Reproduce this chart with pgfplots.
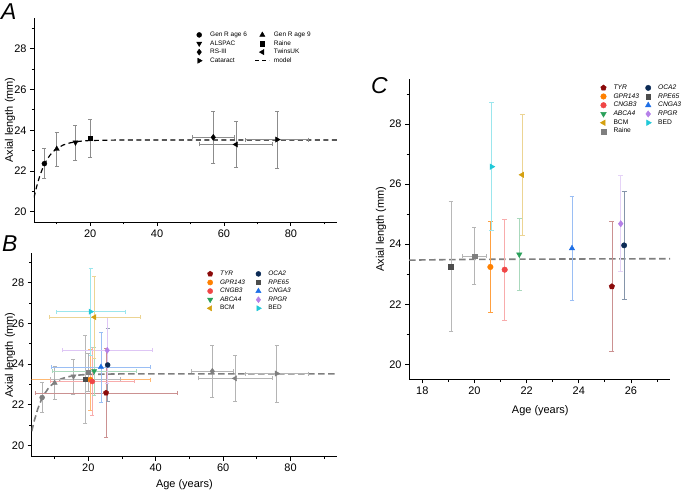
\documentclass[border=0pt]{standalone}
\usepackage{fontspec}
\setmainfont{Liberation Sans}
\usepackage{pgfplots}
\pgfplotsset{compat=1.18}
\usepackage{pgfplotstable}
\usetikzlibrary{plotmarks}

\definecolor{cTYR}{HTML}{8B0A0A}
\definecolor{cGPR}{HTML}{FF8000}
\definecolor{cCNGB}{HTML}{F04646}
\definecolor{cABCA}{HTML}{2AA05A}
\definecolor{cBCM}{HTML}{D4A010}
\definecolor{cOCA}{HTML}{0B2A55}
\definecolor{cRPE}{HTML}{4D4D4D}
\definecolor{cCNGA}{HTML}{1E6FE6}
\definecolor{cRPGR}{HTML}{B580E8}
\definecolor{cBED}{HTML}{20C8D8}
\definecolor{cGrey}{HTML}{7F7F7F}
\definecolor{cErrA}{HTML}{8C8C8C}
\definecolor{cErrG}{HTML}{B4B4B4}

% model curve
\pgfplotstableread{
x y
3.2 20.70
4 21.24
5 21.80
6 22.22
7 22.54
8 22.78
9 22.96
10 23.10
12 23.28
14 23.38
16 23.44
18 23.475
20 23.494
25 23.51
30 23.52
93.8 23.52
}\tModel

% population studies: x y ex ey
\pgfplotstableread{
x y ex ey
6.3 22.36 0 0.74
}\tGenRsix
\pgfplotstableread{
x y ex ey
10.0 23.08 0 0.83
}\tGenRnine
\pgfplotstableread{
x y ex ey
15.6 23.40 0 0.86
}\tALSPAC
\pgfplotstableread{
x y ex ey
20.0 23.60 0.46 0.95
}\tRaine
\pgfplotstableread{
x y ex ey
56.8 23.65 6.3 1.26
}\tRSIII
\pgfplotstableread{
x y ex ey
63.6 23.30 11.0 1.13
}\tTwins
\pgfplotstableread{
x y ex ey
75.9 23.54 9.4 1.40
}\tCataract

% rare diseases: x y ex ey
\pgfplotstableread{
x y ex ey
25.27 22.59 21.1 2.17
}\tTYR
\pgfplotstableread{
x y ex ey
25.74 23.96 0 1.80
}\tOCA
\pgfplotstableread{
x y ex ey
20.61 23.24 17.7 1.51
}\tGPR
\pgfplotstableread{
x y ex ey
19.10 23.26 10.5 2.16
}\tRPE
\pgfplotstableread{
x y ex ey
21.16 23.15 12.4 1.68
}\tCNGB
\pgfplotstableread{
x y ex ey
23.74 23.86 14.6 1.72
}\tCNGA
\pgfplotstableread{
x y ex ey
21.72 23.66 12.4 1.19
}\tABCA
\pgfplotstableread{
x y ex ey
25.61 24.68 13.4 1.60
}\tRPGR
\pgfplotstableread{
x y ex ey
21.83 26.31 13.5 2.01
}\tBCM
\pgfplotstableread{
x y ex ey
20.66 26.58 10.3 2.13
}\tBED

\pgfplotsset{
  mk/.style={only marks,
    legend image code/.code={\path[draw=none,fill=none] (0bp,-2bp) rectangle (14bp,2bp);
      \draw[mark repeat=2,mark phase=2,##1] plot coordinates {(0bp,0bp)(7bp,0bp)(14bp,0bp)};}},
  modelleg/.style={legend image code/.code={\draw[##1] (0bp,0bp) -- (14bp,0bp);}},
  eb/.style={error bars/x dir=both, error bars/x explicit,
    error bars/y dir=both, error bars/y explicit,
    error bars/error bar style={line width=0.6bp, draw=#1, solid},
    error bars/error mark options={rotate=90, mark size=2bp, line width=0.6bp, draw=#1, solid}},
  ebY/.style={error bars/y dir=both, error bars/y explicit,
    error bars/error bar style={line width=0.6bp, draw=#1, solid},
    error bars/error mark options={rotate=90, mark size=2.4bp, line width=0.6bp, draw=#1, solid}},
  base/.style={scale only axis, anchor=south west,
    axis x line=bottom, axis y line=left,
    axis line style={-, line width=0.9bp},
    tick align=outside, major tick length=4bp, minor tick length=2.3bp,
    tick style={black, line width=0.8bp},
    ticklabel style={font=\fontsize{11}{13}\selectfont},
    /pgf/number format/assume math mode=true,
    label style={font=\fontsize{11}{13}\selectfont},
    ytick={20,22,...,28}, minor ytick={21,23,...,29},
    legend columns=2,
    legend style={draw=none, fill=none, inner sep=0pt, row sep=2.5bp,
      nodes={inner sep=0pt, text height=4.7bp, text depth=1.4bp},
      cells={anchor=west}}},
}

\begin{document}
\begin{tikzpicture}
\useasboundingbox (0,0) rectangle (681bp,491bp);

%%%%%%%%%%%%%%%% Panel A
\begin{axis}[base, at={(34bp,269bp)}, width=303bp, height=204bp,
  xmin=3.2, xmax=93.8, ymin=19.5, ymax=29.5,
  xtick={20,40,60,80}, minor xtick={10,30,50,70,90},
  ylabel={Axial length (mm)},
  ylabel style={at={(axis description cs:-0.079,0.5)}, anchor=center},
  legend style={at={(0.5215,0.933)}, anchor=north west,
    font=\fontsize{6.5}{7.5}\selectfont,
    /tikz/every odd column/.append style={column sep=4bp},
    /tikz/every even column/.append style={column sep=7.8bp}}]
\addplot[forget plot, black, line width=1.2bp, dash pattern=on 5bp off 3.5bp] table[x=x,y=y] {\tModel};
\addplot[mk, black, mark=*, mark size=2.5bp, eb=cErrA] table[x=x,y=y,x error=ex,y error=ey] {\tGenRsix};
\addlegendentry{Gen R age 6}
\addplot[mk, black, mark=triangle*, mark size=3bp, eb=cErrA] table[x=x,y=y,x error=ex,y error=ey] {\tGenRnine};
\addlegendentry{Gen R age 9}
\addplot[mk, black, mark=triangle*, mark options={rotate=180}, mark size=3bp, eb=cErrA] table[x=x,y=y,x error=ex,y error=ey] {\tALSPAC};
\addlegendentry{ALSPAC}
\addplot[mk, black, mark=square*, mark size=2.2bp, eb=cErrA] table[x=x,y=y,x error=ex,y error=ey] {\tRaine};
\addlegendentry{Raine}
\addplot[mk, black, mark=diamond*, mark size=3bp, eb=cErrA] table[x=x,y=y,x error=ex,y error=ey] {\tRSIII};
\addlegendentry{RS-III}
\addplot[mk, black, mark=triangle*, mark options={rotate=90}, mark size=3bp, eb=cErrA] table[x=x,y=y,x error=ex,y error=ey] {\tTwins};
\addlegendentry{TwinsUK}
\addplot[mk, black, mark=triangle*, mark options={rotate=-90}, mark size=3bp, eb=cErrA] table[x=x,y=y,x error=ex,y error=ey] {\tCataract};
\addlegendentry{Cataract}
\addlegendimage{modelleg, black, line width=1.2bp, dash pattern=on 4bp off 3bp}
\addlegendentry{model}
\end{axis}

%%%%%%%%%%%%%%%% Panel B
\begin{axis}[base, at={(31.7bp,34.3bp)}, width=305.3bp, height=203.4bp,
  xmin=3.2, xmax=93.8, ymin=19.45, ymax=29.45,
  xtick={20,40,60,80}, minor xtick={10,30,50,70,90},
  ylabel={Axial length (mm)}, xlabel={Age (years)},
  ylabel style={at={(axis description cs:-0.071,0.5)}, anchor=center},
  xlabel style={at={(axis description cs:0.5,-0.137)}, anchor=center},
  legend style={at={(0.561,0.9147)}, anchor=north west,
    font=\fontsize{6.5}{7.5}\selectfont,
    /tikz/every odd column/.append style={column sep=3bp},
    /tikz/every even column/.append style={column sep=6.4bp}}]
\addplot[forget plot, cGrey, line width=1.6bp, dash pattern=on 6.5bp off 3.5bp] table[x=x,y=y] {\tModel};
\addplot[forget plot, mk, cGrey, mark=*, mark size=2.5bp, eb=cErrG] table[x=x,y=y,x error=ex,y error=ey] {\tGenRsix};
\addplot[forget plot, mk, cGrey, mark=triangle*, mark size=3bp, eb=cErrG] table[x=x,y=y,x error=ex,y error=ey] {\tGenRnine};
\addplot[forget plot, mk, cGrey, mark=triangle*, mark options={rotate=180}, mark size=3bp, eb=cErrG] table[x=x,y=y,x error=ex,y error=ey] {\tALSPAC};
\addplot[forget plot, mk, cGrey, mark=square*, mark size=2.2bp, eb=cErrG] table[x=x,y=y,x error=ex,y error=ey] {\tRaine};
\addplot[forget plot, mk, cGrey, mark=diamond*, mark size=3bp, eb=cErrG] table[x=x,y=y,x error=ex,y error=ey] {\tRSIII};
\addplot[forget plot, mk, cGrey, mark=triangle*, mark options={rotate=90}, mark size=3bp, eb=cErrG] table[x=x,y=y,x error=ex,y error=ey] {\tTwins};
\addplot[forget plot, mk, cGrey, mark=triangle*, mark options={rotate=-90}, mark size=3bp, eb=cErrG] table[x=x,y=y,x error=ex,y error=ey] {\tCataract};
\addplot[mk, cTYR, mark=pentagon*, mark size=2.8bp, eb=cTYR!45!white] table[x=x,y=y,x error=ex,y error=ey] {\tTYR};
\addlegendentry{\itshape TYR}
\addplot[mk, cOCA, mark=*, mark size=2.5bp, eb=cOCA!45!white] table[x=x,y=y,x error=ex,y error=ey] {\tOCA};
\addlegendentry{\itshape OCA2}
\addplot[mk, cGPR, mark=*, mark size=2.6bp, eb=cGPR!55!white] table[x=x,y=y,x error=ex,y error=ey] {\tGPR};
\addlegendentry{\itshape GPR143}
\addplot[mk, cRPE, mark=square*, mark size=2.2bp, eb=cRPE!40!white] table[x=x,y=y,x error=ex,y error=ey] {\tRPE};
\addlegendentry{\itshape RPE65}
\addplot[mk, cCNGB, mark=*, mark size=2.6bp, eb=cCNGB!45!white] table[x=x,y=y,x error=ex,y error=ey] {\tCNGB};
\addlegendentry{\itshape CNGB3}
\addplot[mk, cCNGA, mark=triangle*, mark size=3bp, eb=cCNGA!45!white] table[x=x,y=y,x error=ex,y error=ey] {\tCNGA};
\addlegendentry{\itshape CNGA3}
\addplot[mk, cABCA, mark=triangle*, mark options={rotate=180}, mark size=3bp, eb=cABCA!40!white] table[x=x,y=y,x error=ex,y error=ey] {\tABCA};
\addlegendentry{\itshape ABCA4}
\addplot[mk, cRPGR, mark=diamond*, mark size=3bp, eb=cRPGR!45!white] table[x=x,y=y,x error=ex,y error=ey] {\tRPGR};
\addlegendentry{\itshape RPGR}
\addplot[mk, cBCM, mark=triangle*, mark options={rotate=90}, mark size=3bp, eb=cBCM!45!white] table[x=x,y=y,x error=ex,y error=ey] {\tBCM};
\addlegendentry{BCM}
\addplot[mk, cBED, mark=triangle*, mark options={rotate=-90}, mark size=3bp, eb=cBED!45!white] table[x=x,y=y,x error=ex,y error=ey] {\tBED};
\addlegendentry{BED}
\end{axis}

%%%%%%%%%%%%%%%% Panel C
\begin{axis}[base, at={(409bp,111.7bp)}, width=261bp, height=300.3bp,
  xmin=17.49, xmax=27.5, ymin=19.5, ymax=29.5,
  xtick={18,20,...,26}, minor xtick={19,21,...,27},
  ylabel={Axial length (mm)}, xlabel={Age (years)},
  ylabel style={at={(axis description cs:-0.107,0.5)}, anchor=center},
  xlabel style={at={(axis description cs:0.503,-0.104)}, anchor=center},
  legend style={at={(0.7176,0.9812)}, anchor=north west,
    font=\fontsize{6.7}{7.7}\selectfont,
    /tikz/every odd column/.append style={column sep=3bp},
    /tikz/every even column/.append style={column sep=2.1bp}}]
\addplot[forget plot, cGrey, line width=1.6bp, dash pattern=on 6.5bp off 3.5bp] table[x=x,y=y] {\tModel};
\addplot[mk, cTYR, mark=pentagon*, mark size=2.9bp, ebY=cTYR!45!white] table[x=x,y=y,y error=ey] {\tTYR};
\addlegendentry{\itshape TYR}
\addplot[mk, cOCA, mark=*, mark size=2.7bp, ebY=cOCA!50!white] table[x=x,y=y,y error=ey] {\tOCA};
\addlegendentry{\itshape OCA2}
\addplot[mk, cGPR, mark=*, mark size=2.8bp, ebY=cGPR!75!white] table[x=x,y=y,y error=ey] {\tGPR};
\addlegendentry{\itshape GPR143}
\addplot[mk, cRPE, mark=square*, mark size=2.4bp, ebY=cRPE!40!white] table[x=x,y=y,y error=ey] {\tRPE};
\addlegendentry{\itshape RPE65}
\addplot[mk, cCNGB, mark=*, mark size=2.8bp, ebY=cCNGB!45!white] table[x=x,y=y,y error=ey] {\tCNGB};
\addlegendentry{\itshape CNGB3}
\addplot[mk, cCNGA, mark=triangle*, mark size=3.2bp, ebY=cCNGA!45!white] table[x=x,y=y,y error=ey] {\tCNGA};
\addlegendentry{\itshape CNGA3}
\addplot[mk, cABCA, mark=triangle*, mark options={rotate=180}, mark size=3.2bp, ebY=cABCA!40!white] table[x=x,y=y,y error=ey] {\tABCA};
\addlegendentry{\itshape ABCA4}
\addplot[mk, cRPGR, mark=diamond*, mark size=3.2bp, ebY=cRPGR!35!white] table[x=x,y=y,y error=ey] {\tRPGR};
\addlegendentry{\itshape RPGR}
\addplot[mk, cBCM, mark=triangle*, mark options={rotate=90}, mark size=3.2bp, ebY=cBCM!45!white] table[x=x,y=y,y error=ey] {\tBCM};
\addlegendentry{BCM}
\addplot[mk, cBED, mark=triangle*, mark options={rotate=-90}, mark size=3.2bp, ebY=cBED!45!white] table[x=x,y=y,y error=ey] {\tBED};
\addlegendentry{BED}
\addplot[mk, cGrey, mark=square*, mark size=2.4bp, eb=cErrG] table[x=x,y=y,x error=ex,y error=ey] {\tRaine};
\addlegendentry{Raine}
\end{axis}

\node[anchor=base west, font=\fontsize{23}{23}\selectfont\itshape, inner sep=0pt] at (1bp,471bp) {A};
\node[anchor=base west, font=\fontsize{23}{23}\selectfont\itshape, inner sep=0pt] at (2bp,239bp) {B};
\node[anchor=base west, font=\fontsize{23}{23}\selectfont\itshape, inner sep=0pt] at (371bp,397.7bp) {C};
\end{tikzpicture}
\end{document}
